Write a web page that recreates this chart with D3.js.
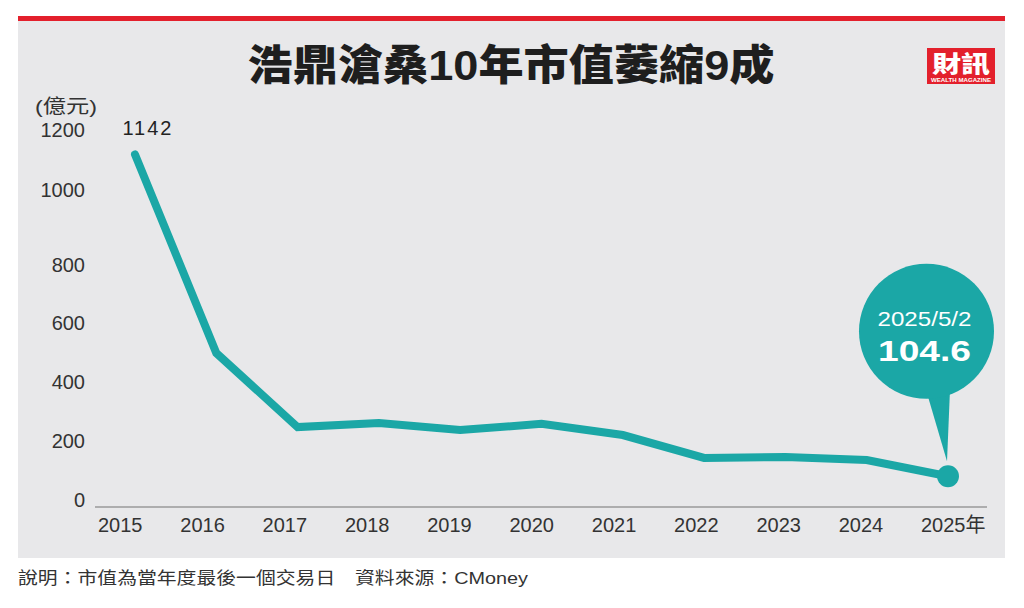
<!DOCTYPE html>
<html><head><meta charset="utf-8">
<script src="https://cdn.jsdelivr.net/npm/d3@7/dist/d3.min.js"></script>
<style>
html,body{margin:0;padding:0;background:#fff;}
svg{display:block;}
text{font-family:"Liberation Sans","Noto Sans CJK TC",Arial,sans-serif;}
</style></head>
<body><svg id="chart" width="1024" height="608"></svg>
<script>
const title = "浩鼎滄桑10年市值萎縮9成";
const unitLabel = "(億元)";
const years = ["2015","2016","2017","2018","2019","2020","2021","2022","2023","2024","2025"];
const values = [1142, 524, 272, 286, 262, 283, 245, 167, 170, 160, 104.6];
const yTicks = [0, 200, 400, 600, 800, 1000, 1200];
const firstLabel = "1142";
const calloutDate = "2025/5/2";
const calloutValue = "104.6";
const footnote = "說明：市值為當年度最後一個交易日　資料來源：CMoney";

const teal = "#1ba7a6";
const svg = d3.select("#chart");

// panel + red top bar
svg.append("rect").attr("x",18).attr("y",20).attr("width",987).attr("height",538).attr("fill","#e8e8ea");
svg.append("rect").attr("x",18).attr("y",16).attr("width",987).attr("height",5).attr("fill","#e3202c");

// title
svg.append("text").attr("x",511).attr("y",80).attr("text-anchor","middle")
  .attr("font-family","'Noto Sans CJK TC','Noto Sans CJK SC',sans-serif")
  .attr("font-size",42).attr("font-weight",900).attr("fill","#1e1e1e")
  .attr("textLength",527).attr("lengthAdjust","spacingAndGlyphs")
  .text(title);

// logo
const logo = svg.append("g");
logo.append("rect").attr("x",927).attr("y",48).attr("width",68).attr("height",36).attr("fill","#e3202c");
logo.append("text").attr("x",961).attr("y",72).attr("text-anchor","middle")
  .attr("font-family","'Noto Sans CJK TC',sans-serif").attr("font-weight",900)
  .attr("font-size",23).attr("fill","#fff").attr("textLength",58).attr("lengthAdjust","spacingAndGlyphs").text("財訊");
logo.append("text").attr("x",961).attr("y",82).attr("text-anchor","middle")
  .attr("font-size",5).attr("font-weight",700).attr("fill","#fff")
  .attr("textLength",60).attr("lengthAdjust","spacingAndGlyphs").text("WEALTH MAGAZINE");

// scales
const x = d3.scalePoint().domain(years).range([135, 948]);
const xLab = d3.scalePoint().domain(years).range([121, 944]);
const y = d3.scaleLinear().domain([0, 800, 1000, 1200]).range([507, 272, 197, 137]);

// unit label
svg.append("text").attr("x",35).attr("y",113).attr("font-size",19).attr("fill","#333")
  .attr("font-family","'Noto Sans CJK TC',sans-serif")
  .attr("textLength",62).attr("lengthAdjust","spacingAndGlyphs").text(unitLabel);

// y tick labels
svg.append("g").selectAll("text").data(yTicks).join("text")
  .attr("x",85).attr("y",d=>y(d)-0.5).attr("text-anchor","end")
  .attr("font-size",20).attr("fill","#333").text(d=>d);

// x axis
const xAxis = d3.axisBottom(xLab).tickSize(0).tickPadding(0).tickFormat(d => d === years[years.length-1] ? d + "年" : d);
const gx = svg.append("g").attr("transform","translate(0,507)").call(xAxis);
gx.select(".domain").remove();
gx.append("line").attr("x1",95).attr("x2",987).attr("y1",0).attr("y2",0).attr("stroke","#9a9a9a").attr("stroke-width",1.5);
gx.selectAll(".tick text")
  .attr("text-anchor","start").attr("dx",-23.5).attr("y",11)
  .attr("font-size",20).attr("fill","#333")
  .attr("font-family","'Liberation Sans','Noto Sans CJK TC',sans-serif");

// line
const line = d3.line().x((d,i)=>x(years[i])).y(d=>y(d));
svg.append("path").datum(values).attr("d",line)
  .attr("fill","none").attr("stroke",teal).attr("stroke-width",8)
  .attr("stroke-linecap","round").attr("stroke-linejoin","miter");

// first value label
svg.append("text").attr("x",x(years[0])+13).attr("y",y(values[0])-19).attr("text-anchor","middle")
  .attr("font-size",20).attr("letter-spacing",2).attr("fill","#222").text(firstLabel);

// last point marker + callout
const lx = x(years[years.length-1]), ly = y(values[values.length-1]);
svg.append("circle").attr("cx",lx).attr("cy",ly).attr("r",11).attr("fill",teal);
const cx = lx - 21.5, cy = ly - 145, r = 67.5;
svg.append("path").attr("d",`M${lx-21},${cy+62} L${lx+2},${cy+58} L${lx-1},${ly-15} Z`).attr("fill",teal);
svg.append("circle").attr("cx",cx).attr("cy",cy).attr("r",r).attr("fill",teal);
svg.append("text").attr("x",cx-2).attr("y",cy-5).attr("text-anchor","middle")
  .attr("font-size",21).attr("fill","#fff").attr("textLength",94).attr("lengthAdjust","spacingAndGlyphs").text(calloutDate);
svg.append("text").attr("x",cx-2).attr("y",cy+30).attr("text-anchor","middle")
  .attr("font-size",29).attr("font-weight",700).attr("fill","#fff").attr("textLength",93).attr("lengthAdjust","spacingAndGlyphs").text(calloutValue);

// footnote
svg.append("text").attr("x",18).attr("y",584).attr("font-size",17).attr("fill","#333")
  .attr("font-family","'Noto Sans CJK TC',sans-serif")
  .attr("textLength",510).attr("lengthAdjust","spacingAndGlyphs").text(footnote);
</script></body></html>
